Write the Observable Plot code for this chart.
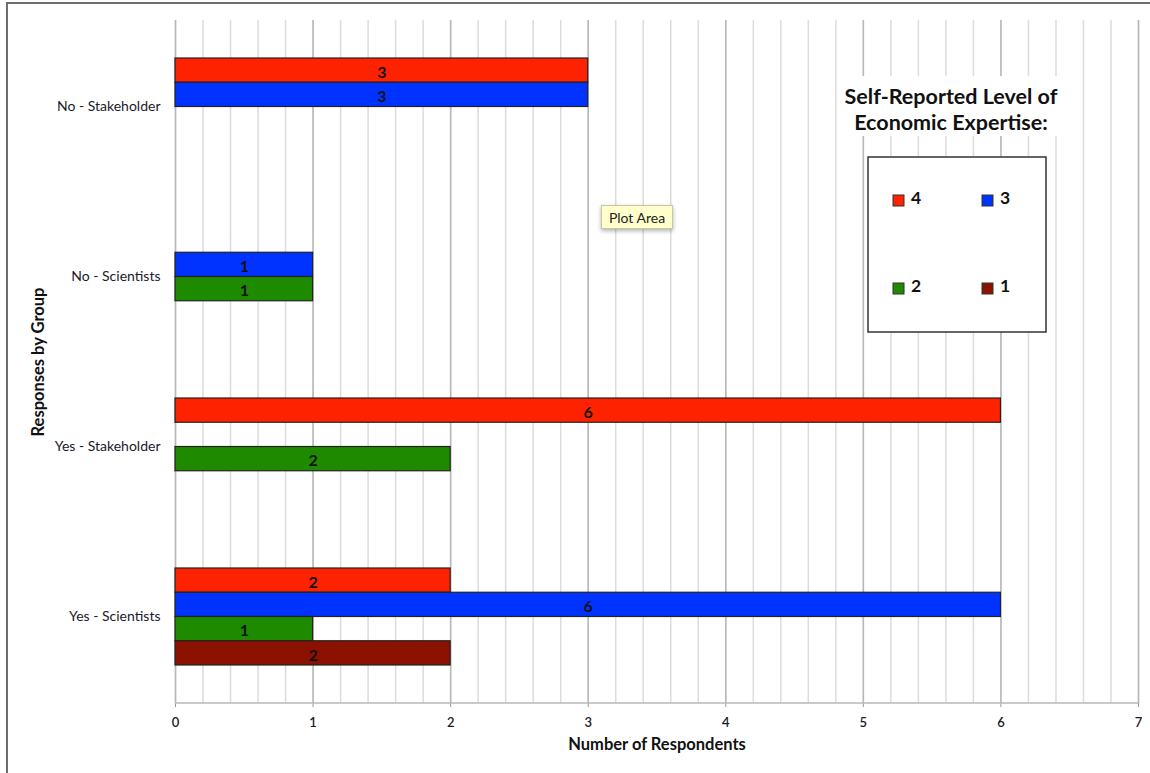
<!DOCTYPE html>
<html>
<head>
<meta charset="utf-8">
<script src="https://cdn.jsdelivr.net/npm/d3@7"></script>
<script src="https://cdn.jsdelivr.net/npm/@observablehq/plot@0.6"></script>
<style>
  html, body { margin: 0; padding: 0; background: #fff; }
  #chart svg { display: block; }
</style>
</head>
<body>
<div id="chart"></div>
<script>
// ---- data ----
const groups = ["No - Stakeholder", "No - Scientists", "Yes - Stakeholder", "Yes - Scientists"];
const levels = ["4", "3", "2", "1"];
const levelColors = ["#ff2200", "#0033ff", "#1e8a00", "#8b1200"];
const level4 = [3, 0, 6, 2];
const level3 = [3, 1, 0, 6];
const level2 = [0, 1, 2, 1];
const level1 = [0, 0, 0, 2];
const xTicks = [0, 1, 2, 3, 4, 5, 6, 7];
const minorTicks = d3.range(0, 36).map(i => i / 5);
const legendTitle = ["Self-Reported Level of", "Economic Expertise:"];
const xLabel = "Number of Respondents";
const yLabel = "Responses by Group";

const series = [level4, level3, level2, level1];
const rows = [];
levels.forEach((lv, li) => groups.forEach((g, gi) => {
  if (series[li][gi] > 0) rows.push({group: g, level: lv, value: series[li][gi]});
}));

// ---- layout ----
const W = 1150, H = 773;
const mL = 175, mR = 12, mT = 20, mB = 70;
const plotH = H - mT - mB;
const step = plotH / groups.length;
const slot = 24.25;
const bw = slot * levels.length;
const pInner = 1 - bw / step;

const font = "Lato, 'Open Sans', sans-serif";

const chart = Plot.plot({
  width: W, height: H,
  marginLeft: mL, marginRight: mR, marginTop: mT, marginBottom: mB,
  style: {fontFamily: font, fontSize: "14px", color: "#1a1a2a", background: "white"},
  x: {domain: [0, 7], ticks: xTicks, tickFormat: d3.format("d"), tickSize: 4, tickPadding: 10, label: null},
  y: {domain: groups, type: "band", paddingInner: pInner, paddingOuter: pInner / 2, tickSize: 0, tickPadding: 15, label: null},
  marks: [
    Plot.ruleX(minorTicks, {stroke: "#dcdcdc", strokeWidth: 1.5}),
    Plot.ruleX(xTicks, {stroke: "#b8b8b8", strokeWidth: 1.5}),
    ...levels.map((lv, i) => Plot.barX(rows.filter(r => r.level === lv), {
      x: "value", y: "group", fill: levelColors[i], stroke: "#222", strokeWidth: 1.2,
      insetTop: i * slot, insetBottom: (levels.length - 1 - i) * slot
    })),
    ...levels.map((lv, i) => Plot.text(rows.filter(r => r.level === lv), {
      x: d => d.value / 2, y: "group", text: d => String(d.value),
      dy: (i - 1.5) * slot + 2, fontWeight: "bold", fontSize: 16, fill: "#111"
    })),
    Plot.text([xLabel], {text: d => d, frameAnchor: "bottom", dy: 46, fontWeight: "bold", fontSize: 16.5, fill: "#111"}),
    Plot.text([yLabel], {text: d => d, frameAnchor: "left", textAnchor: "middle", dx: -137, rotate: -90, fontWeight: "bold", fontSize: 16.5, fill: "#111"})
  ]
});
document.getElementById("chart").appendChild(chart);

// ---- extras drawn on the same svg ----
const svg = d3.select(chart);
const xs = chart.scale("x");
svg.selectAll('g[aria-label^="x-axis"] line, g[aria-label^="x-axis"] path').attr("stroke", "#999");
svg.selectAll('g[aria-label^="x-axis"] text').attr("font-size", 13).attr("font-weight", 600);
svg.append("line").attr("x1", xs.apply(0)).attr("x2", xs.apply(7))
  .attr("y1", H - mB).attr("y2", H - mB).attr("stroke", "#b8b8b8").attr("stroke-width", 1.5);

// outer frame (left + top)
svg.append("path").attr("d", `M7,${H}V3H${W}`).attr("fill", "none").attr("stroke", "#6e6e6e").attr("stroke-width", 2);

// legend title
svg.append("rect").attr("x", 844).attr("y", 76).attr("width", 222).attr("height", 60).attr("fill", "white");
legendTitle.forEach((t, i) => svg.append("text").attr("x", 951).attr("y", 96 + i * 26)
  .attr("text-anchor", "middle").attr("dominant-baseline", "central")
  .attr("font-family", font).attr("font-weight", "bold").attr("font-size", 21.5).attr("fill", "#111").text(t));

// legend box
svg.append("rect").attr("x", 868).attr("y", 157).attr("width", 178).attr("height", 175)
  .attr("fill", "white").attr("stroke", "#333").attr("stroke-width", 1.5);
const legPos = [[893, 201], [982, 201], [893, 289], [982, 289]];
levels.forEach((lv, i) => {
  const [lx, ly] = legPos[i];
  svg.append("rect").attr("x", lx).attr("y", ly - 6).attr("width", 11).attr("height", 11)
    .attr("fill", levelColors[i]).attr("stroke", "#333").attr("stroke-width", 1);
  svg.append("text").attr("x", lx + 23).attr("y", ly - 4).attr("dominant-baseline", "central")
    .attr("font-family", font).attr("font-weight", "bold").attr("font-size", 17.5).attr("fill", "#111").text(lv);
});

// "Plot Area" tooltip
const defs = svg.append("defs");
const f = defs.append("filter").attr("id", "sh").attr("x", "-20%").attr("y", "-20%").attr("width", "150%").attr("height", "180%");
f.append("feDropShadow").attr("dx", 0).attr("dy", 2).attr("stdDeviation", 2).attr("flood-color", "#000").attr("flood-opacity", 0.3);
svg.append("rect").attr("x", 601.5).attr("y", 205.5).attr("width", 71).attr("height", 23)
  .attr("fill", "#ffffcc").attr("stroke", "#c8c8a0").attr("filter", "url(#sh)");
svg.append("text").attr("x", 637).attr("y", 217).attr("text-anchor", "middle").attr("dominant-baseline", "central")
  .attr("font-family", font).attr("font-size", 14).attr("fill", "#222").text("Plot Area");
</script>
</body>
</html>
